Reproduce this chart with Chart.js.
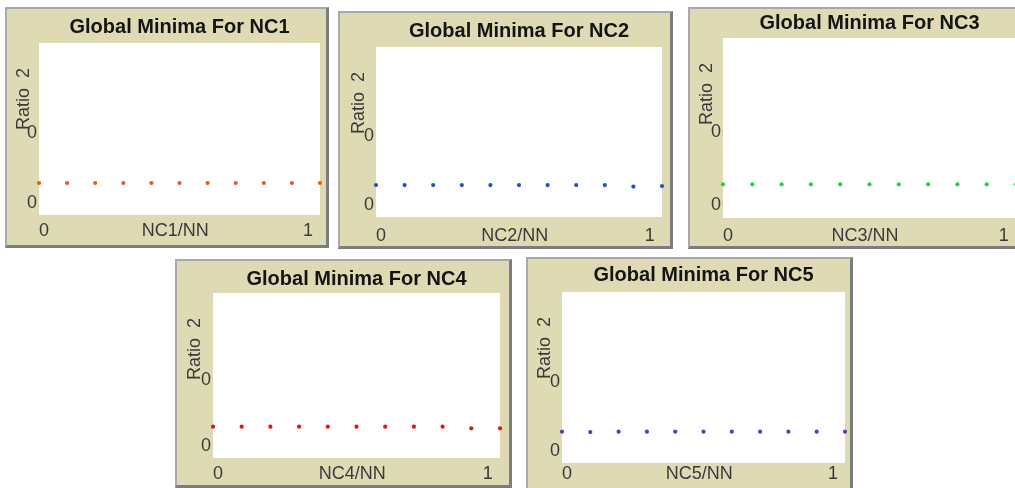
<!DOCTYPE html>
<html>
<head>
<meta charset="utf-8">
<script src="https://cdn.jsdelivr.net/npm/chart.js@4.4.1/dist/chart.umd.min.js"></script>
<style>
  html, body { margin: 0; padding: 0; background: #fff; overflow: hidden; }
  body { width: 1015px; height: 488px; position: relative; }
  .panel {
    position: absolute;
    background: #dedbb4;
    border-top: 2px solid #a9a9a9;
    border-left: 2px solid #a9a9a9;
    border-right: 3px solid #7d7d7d;
    border-bottom: 3px solid #7d7d7d;
  }
  .panel canvas { display: block; }
</style>
</head>
<body>
<script>
// data
const xValues = [0, 0.1, 0.2, 0.3, 0.4, 0.5, 0.6, 0.7, 0.8, 0.9, 1];
const nc1Ratio = [0.186, 0.186, 0.186, 0.186, 0.186, 0.186, 0.186, 0.186, 0.186, 0.186, 0.186];
const nc2Ratio = [0.188, 0.188, 0.188, 0.188, 0.188, 0.188, 0.188, 0.188, 0.188, 0.179, 0.182];
const nc3Ratio = [0.187, 0.187, 0.187, 0.187, 0.187, 0.187, 0.187, 0.187, 0.187, 0.187, 0.187];
const nc4Ratio = [0.19, 0.19, 0.19, 0.19, 0.19, 0.19, 0.19, 0.19, 0.19, 0.18, 0.18];
const nc5Ratio = [0.183, 0.181, 0.183, 0.183, 0.183, 0.183, 0.183, 0.183, 0.183, 0.183, 0.183];

const titles = ["Global Minima For NC1", "Global Minima For NC2", "Global Minima For NC3",
                "Global Minima For NC4", "Global Minima For NC5"];
const xTitles = ["NC1/NN", "NC2/NN", "NC3/NN", "NC4/NN", "NC5/NN"];
const series = [nc1Ratio, nc2Ratio, nc3Ratio, nc4Ratio, nc5Ratio];
const colors = ["#f2561c", "#2352c2", "#1fd33a", "#e01414", "#7232b4"];

const xTickValues = [0, 0.485, 0.975];
const xTickLabels = ["0", null, "1"];   // middle slot carries the axis name
const yTickValues = [0.07, 0.475];
const yTickLabels = ["0", "0"];
const yTitle = "Ratio  2     ";

// panel boxes (inner beige area) and plot areas, page coordinates
const panels = [
  { x: 7,   y: 9,   w: 319, h: 236, plot: [39, 43, 320, 215],   tc: 27,    yc: 24.5,  xc: 230 },
  { x: 340, y: 13,  w: 330, h: 233, plot: [376, 47, 662, 217],  tc: 31,    yc: 359.5, xc: 235 },
  { x: 690, y: 9,   w: 332, h: 237, plot: [723, 38, 1016, 218], tc: 23.5,  yc: 707.5, xc: 235 },
  { x: 177, y: 261, w: 332, h: 224, plot: [213, 293, 500, 458], tc: 279.5, yc: 195.5, xc: 473 },
  { x: 528, y: 259, w: 322, h: 231, plot: [562, 292, 845, 463], tc: 275,   yc: 545.5, xc: 473 }
];

const plotBg = {
  id: "plotBg",
  beforeDraw(chart) {
    const a = chart.chartArea, ctx = chart.ctx;
    ctx.save();
    ctx.fillStyle = "#ffffff";
    ctx.fillRect(a.left, a.top, a.right - a.left, a.bottom - a.top);
    ctx.restore();
  }
};

const labelFont = { family: "Liberation Sans", size: 18 };
const labelColor = "#3a3a3a";

panels.forEach((p, i) => {
  const div = document.createElement("div");
  div.className = "panel";
  div.style.left = (p.x - 2) + "px";
  div.style.top = (p.y - 2) + "px";
  div.style.width = p.w + "px";
  div.style.height = p.h + "px";
  const canvas = document.createElement("canvas");
  canvas.width = p.w;
  canvas.height = p.h;
  div.appendChild(canvas);
  document.body.appendChild(div);

  const [pl, pt, pr, pb] = p.plot;
  const yWidth = pl - p.x;
  const padRight = p.x + p.w - pr;
  const titleBlock = pt - p.y;
  const titleTop = p.tc - p.y - 12;
  const xHeight = p.y + p.h - pb;

  new Chart(canvas, {
    type: "scatter",
    data: {
      datasets: [{
        data: xValues.map((x, k) => ({ x: x, y: series[i][k] })),
        backgroundColor: colors[i],
        borderColor: colors[i],
        pointRadius: 2.1,
        pointBorderWidth: 0,
        showLine: false,
        clip: false
      }]
    },
    options: {
      responsive: false,
      animation: false,
      devicePixelRatio: 1,
      layout: { padding: { left: 0, right: padRight, top: 0, bottom: 0 } },
      plugins: {
        legend: { display: false },
        tooltip: { enabled: false },
        title: {
          display: true,
          fullSize: false,
          text: titles[i],
          color: "#141414",
          font: { family: "Liberation Sans", size: 20, weight: "bold", lineHeight: 1.2 },
          padding: { top: titleTop, bottom: titleBlock - titleTop - 24 }
        }
      },
      scales: {
        x: {
          type: "linear",
          min: 0,
          max: 1,
          grid: { display: false, drawTicks: false },
          border: { display: false },
          afterBuildTicks: (s) => { s.ticks = xTickValues.map((v) => ({ value: v })); },
          afterFit: (s) => { s.height = xHeight; },
          ticks: {
            autoSkip: false,
            maxRotation: 0,
            align: "inner",
            padding: p.xc - pb - 9.5,
            color: labelColor,
            font: labelFont,
            callback: (v, k) => (k === 1 ? xTitles[i] : xTickLabels[k])
          }
        },
        y: {
          type: "linear",
          min: 0,
          max: 1,
          grid: { display: false, drawTicks: false },
          border: { display: false },
          afterBuildTicks: (s) => { s.ticks = yTickValues.map((v) => ({ value: v })); },
          afterFit: (s) => { s.width = yWidth; },
          ticks: {
            autoSkip: false,
            padding: 2,
            color: labelColor,
            font: labelFont,
            callback: (v, k) => yTickLabels[k]
          },
          title: {
            display: true,
            text: yTitle,
            align: "end",
            color: labelColor,
            font: { family: "Liberation Sans", size: 18, lineHeight: 1.2 },
            padding: { top: p.yc - p.x - 10.8, bottom: 0 }
          }
        }
      }
    },
    plugins: [plotBg]
  });
});
</script>
</body>
</html>
